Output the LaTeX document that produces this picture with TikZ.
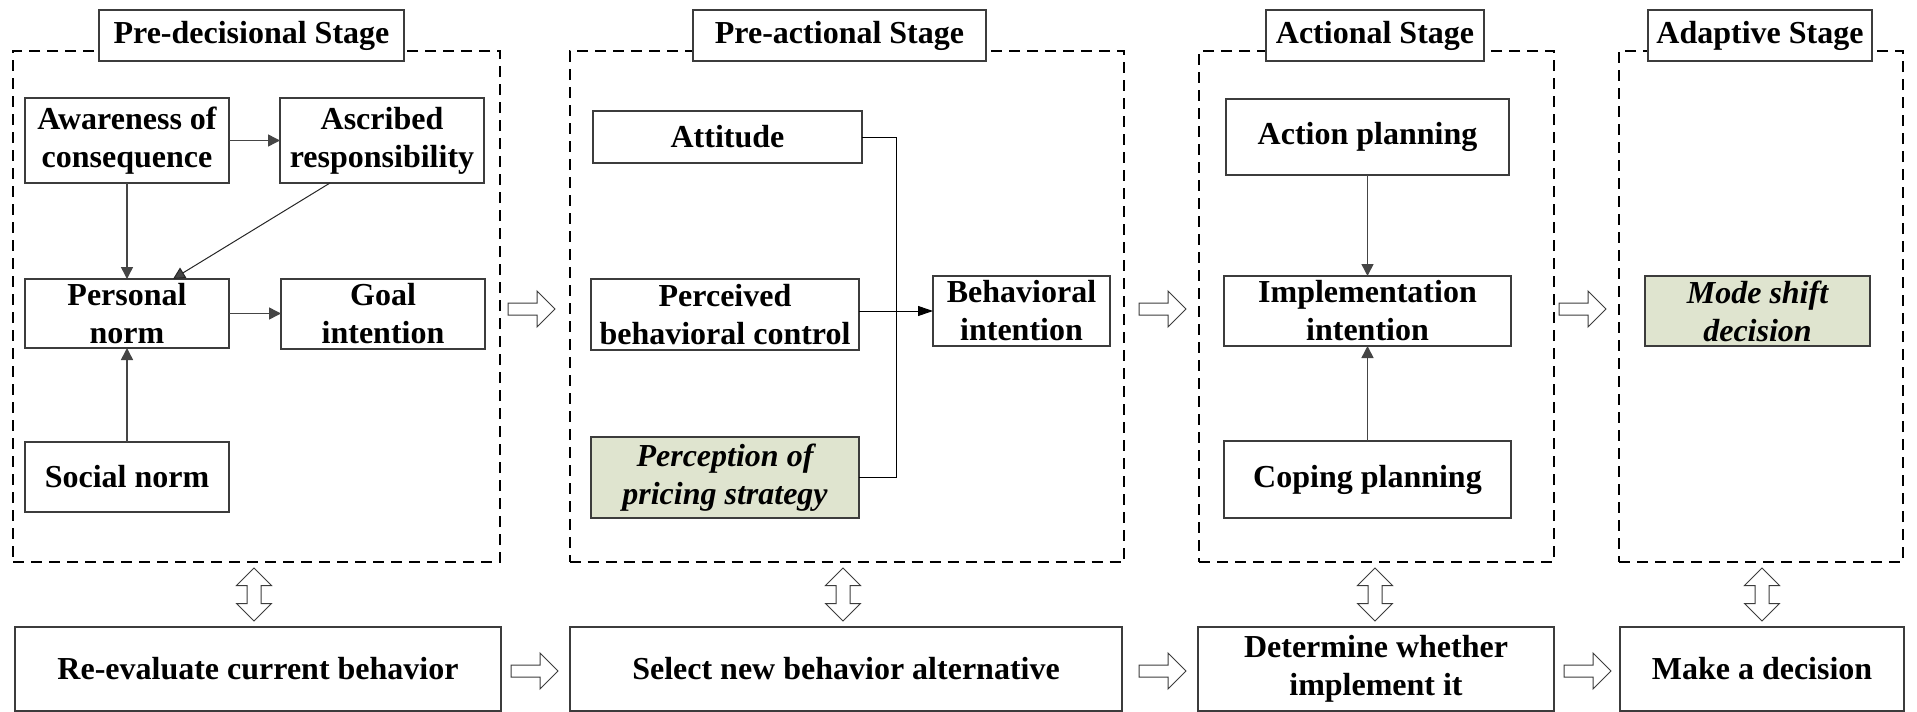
\documentclass[tikz,border=0pt]{standalone}
\usepackage{fontspec}
\setmainfont{Liberation Serif}
\usetikzlibrary{arrows.meta}
\definecolor{boxgray}{HTML}{3C3C3C}
\definecolor{linegray}{HTML}{454545}
\definecolor{sage}{HTML}{DFE4CF}
\begin{document}
\begin{tikzpicture}[x=0.5pt,y=-0.5pt,
  rect/.style args={#1/#2/#3/#4}{minimum width={(#3-#1)*0.5pt}, minimum height={(#4-#2)*0.5pt}, at={({(#1+#3)/2},{(#2+#4)/2})}},
  box/.style={draw=boxgray, line width=0.7pt, inner sep=0pt, outer sep=0pt, align=center, fill=white, font=\fontsize{16}{19}\selectfont\bfseries},
  greenbox/.style={box, fill=sage, font=\fontsize{16}{19}\selectfont\bfseries\itshape},
  stagebox/.style={draw=black, line width=1pt, dash pattern=on 5.5pt off 3.5pt, inner sep=0pt, outer sep=0pt},
  garr/.style={draw=linegray, line width=0.75pt, -{Triangle[length=6pt,width=6pt]}},
  thinarr/.style={draw=black!85, line width=0.5pt, -{Triangle[length=6pt,width=6pt,fill=linegray]}},
  kline/.style={draw=black, line width=0.5pt},
  karr/.style={draw=black, line width=0.5pt, -{Triangle[length=7.5pt,width=5pt]}},
  harrow/.pic={\draw[draw=boxgray, line width=0.5pt, fill=white] (0,-6) -- (29,-6) -- (29,-18) -- (47,0) -- (29,18) -- (29,6) -- (0,6) -- cycle;},
  varrow/.pic={\draw[draw=boxgray, line width=0.5pt, fill=white] (0,-26.5) -- (17.5,-9) -- (7,-9) -- (7,9) -- (17.5,9) -- (0,26.5) -- (-17.5,9) -- (-7,9) -- (-7,-9) -- (-17.5,-9) -- cycle;}
]
\useasboundingbox (0,0) rectangle (1917,712);

% stage frames
\node[stagebox, rect=13/51/500/562] (d1) {};
\node[stagebox, rect=569.5/51/1124/562] (d2) {};
\node[stagebox, rect=1199/51/1554/562] (d3) {};
\node[stagebox, rect=1619/51/1903/562] (d4) {};

% stage titles
\node[box, rect=99/10/404/61] (t1) {Pre-decisional Stage};
\node[box, rect=693/10/986/61] (t2) {Pre-actional Stage};
\node[box, rect=1266/10/1484/61] (t3) {Actional Stage};
\node[box, rect=1648/10/1872/61] (t4) {Adaptive Stage};

% pre-decisional
\node[box, rect=25/98/229/183] (aw) {Awareness of\\consequence};
\node[box, rect=280/98/484/183] (as) {Ascribed\\responsibility};
\node[box, rect=25/279/229/348] (pn) {Personal\\norm};
\node[box, rect=281/279/485/349] (gi) {Goal\\intention};
\node[box, rect=25/442/229/512] (sn) {Social norm};

% pre-actional
\node[box, rect=593/111/862/163] (at) {Attitude};
\node[box, rect=591/279/859/350] (pc) {Perceived\\behavioral control};
\node[greenbox, rect=591/437/859/518] (pp) {Perception of\\pricing strategy};
\node[box, rect=933/276/1110/346] (bi) {Behavioral\\intention};

% actional
\node[box, rect=1226/99/1509/175] (ap) {Action planning};
\node[box, rect=1224/276/1511/346] (ii) {Implementation\\intention};
\node[box, rect=1224/441/1511/518] (cp) {Coping planning};

% adaptive
\node[greenbox, rect=1645/276/1870/346] (ms) {Mode shift\\decision};

% bottom row
\node[box, rect=15/627/501/711] (ra) {Re-evaluate current behavior};
\node[box, rect=570/627/1122/711] (sa) {Select new behavior alternative};
\node[box, rect=1198/627/1554/711] (dw) {Determine whether\\implement it};
\node[box, rect=1620/627/1904/711] (md) {Make a decision};

% connectors pre-decisional
\draw[garr] (aw.east) -- (as.west);
\draw[garr] (aw.south) -- (pn.north);
\draw[thinarr] ([xshift=-26pt]as.south) -- ([xshift=23pt]pn.north);
\draw[garr] (pn.east) -- (pn.east -| gi.west);
\draw[garr] (sn.north) -- (pn.south);

% connectors pre-actional
\coordinate (bus) at (896,300);
\draw[kline] (at.east) -- (at.east -| bus) -- (pp.east -| bus) -- (pp.east);
\draw[karr] (pc.east |- bi.west) -- (bi.west);

% connectors actional
\draw[garr] (ap.south) -- (ii.north);
\draw[garr] (cp.north) -- (ii.south);

% hollow arrows between stages
\pic at (508,309) {harrow};
\pic at (1139,309) {harrow};
\pic at (1559,309) {harrow};
\pic at (511,671) {harrow};
\pic at (1139,671) {harrow};
\pic at (1564,671) {harrow};

% double arrows
\pic at (254,594.5) {varrow};
\pic at (843,594.5) {varrow};
\pic at (1375,594.5) {varrow};
\pic at (1762,594.5) {varrow};
\end{tikzpicture}
\end{document}
